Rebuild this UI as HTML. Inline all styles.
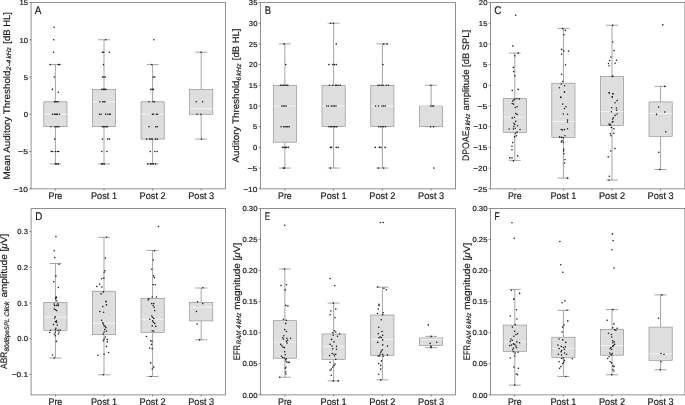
<!DOCTYPE html>
<html><head><meta charset="utf-8"><title>Figure</title>
<style>
html,body{margin:0;padding:0;background:#fff;}
body{width:685px;height:405px;overflow:hidden;}
svg{display:block;filter:grayscale(1);}
svg text{font-family:'Liberation Sans', sans-serif;fill:#1a1a1a;stroke:#1a1a1a;stroke-width:0.18px;text-rendering:geometricPrecision;}
</style></head><body>
<svg width="685" height="405" viewBox="0 0 685 405">
<rect width="685" height="405" fill="#fff"/>
<g id="pA">
<path d="M55.40 64.58V101.83M55.40 126.67V163.92M49.45 64.58H61.35M49.45 163.92H61.35" stroke="#6e6e6e" stroke-width="0.62" fill="none"/>
<rect x="43.80" y="101.83" width="23.20" height="24.84" fill="#dedede" stroke="#8a8a8a" stroke-width="0.62"/>
<path d="M44.10 114.25H66.70" stroke="#f3f3f3" stroke-width="0.95"/>
<path d="M104.00 39.75V89.42M104.00 126.67V163.92M98.05 39.75H109.95M98.05 163.92H109.95" stroke="#6e6e6e" stroke-width="0.62" fill="none"/>
<rect x="92.40" y="89.42" width="23.20" height="37.25" fill="#dedede" stroke="#8a8a8a" stroke-width="0.62"/>
<path d="M92.70 101.83H115.30" stroke="#f3f3f3" stroke-width="0.95"/>
<path d="M152.60 64.58V101.83M152.60 139.08V163.92M146.65 64.58H158.55M146.65 163.92H158.55" stroke="#6e6e6e" stroke-width="0.62" fill="none"/>
<rect x="141.00" y="101.83" width="23.20" height="37.25" fill="#dedede" stroke="#8a8a8a" stroke-width="0.62"/>
<path d="M141.30 114.25H163.90" stroke="#f3f3f3" stroke-width="0.95"/>
<path d="M201.20 52.17V89.42M201.20 114.25V139.08M195.25 52.17H207.15M195.25 139.08H207.15" stroke="#6e6e6e" stroke-width="0.62" fill="none"/>
<rect x="189.60" y="89.42" width="23.20" height="24.83" fill="#dedede" stroke="#8a8a8a" stroke-width="0.62"/>
<path d="M189.90 108.66H212.50" stroke="#f3f3f3" stroke-width="0.95"/>
<g fill="#1c1c1c"><circle cx="54.0" cy="27.3" r="0.78"/><circle cx="53.7" cy="39.8" r="0.78"/><circle cx="53.6" cy="52.2" r="0.78"/><circle cx="50.3" cy="64.6" r="0.78"/><circle cx="58.5" cy="64.6" r="0.78"/><circle cx="59.4" cy="64.6" r="0.78"/><circle cx="54.3" cy="77.0" r="0.78"/><circle cx="52.4" cy="89.4" r="0.78"/><circle cx="58.3" cy="92.2" r="0.78"/><circle cx="54.5" cy="101.8" r="0.78"/><circle cx="55.7" cy="101.8" r="0.78"/><circle cx="56.9" cy="101.8" r="0.78"/><circle cx="58.1" cy="101.8" r="0.78"/><circle cx="52.4" cy="114.2" r="0.78"/><circle cx="54.2" cy="114.2" r="0.78"/><circle cx="55.3" cy="114.2" r="0.78"/><circle cx="56.4" cy="114.2" r="0.78"/><circle cx="57.4" cy="114.2" r="0.78"/><circle cx="59.4" cy="114.2" r="0.78"/><circle cx="51.0" cy="126.7" r="0.78"/><circle cx="54.9" cy="126.7" r="0.78"/><circle cx="56.2" cy="126.7" r="0.78"/><circle cx="57.6" cy="126.7" r="0.78"/><circle cx="59.0" cy="126.7" r="0.78"/><circle cx="54.7" cy="139.1" r="0.78"/><circle cx="51.3" cy="151.5" r="0.78"/><circle cx="52.6" cy="151.5" r="0.78"/><circle cx="55.4" cy="151.5" r="0.78"/><circle cx="57.4" cy="151.5" r="0.78"/><circle cx="58.7" cy="151.5" r="0.78"/><circle cx="55.4" cy="163.9" r="0.78"/><circle cx="56.9" cy="163.9" r="0.78"/><circle cx="58.3" cy="163.9" r="0.78"/><circle cx="105.8" cy="39.8" r="0.78"/><circle cx="102.4" cy="52.2" r="0.78"/><circle cx="103.6" cy="52.2" r="0.78"/><circle cx="109.4" cy="52.2" r="0.78"/><circle cx="103.5" cy="64.6" r="0.78"/><circle cx="102.5" cy="77.0" r="0.78"/><circle cx="103.9" cy="77.0" r="0.78"/><circle cx="105.3" cy="77.0" r="0.78"/><circle cx="101.9" cy="89.4" r="0.78"/><circle cx="103.3" cy="89.4" r="0.78"/><circle cx="104.6" cy="89.4" r="0.78"/><circle cx="105.9" cy="89.4" r="0.78"/><circle cx="99.9" cy="101.8" r="0.78"/><circle cx="102.8" cy="101.8" r="0.78"/><circle cx="104.0" cy="101.8" r="0.78"/><circle cx="105.0" cy="101.8" r="0.78"/><circle cx="99.5" cy="114.2" r="0.78"/><circle cx="101.1" cy="114.2" r="0.78"/><circle cx="105.6" cy="114.2" r="0.78"/><circle cx="107.6" cy="114.2" r="0.78"/><circle cx="109.4" cy="114.2" r="0.78"/><circle cx="110.3" cy="114.2" r="0.78"/><circle cx="102.5" cy="126.7" r="0.78"/><circle cx="103.8" cy="126.7" r="0.78"/><circle cx="105.0" cy="126.7" r="0.78"/><circle cx="106.2" cy="126.7" r="0.78"/><circle cx="107.5" cy="126.7" r="0.78"/><circle cx="102.4" cy="139.1" r="0.78"/><circle cx="107.6" cy="139.1" r="0.78"/><circle cx="109.4" cy="139.1" r="0.78"/><circle cx="101.8" cy="151.5" r="0.78"/><circle cx="106.9" cy="151.5" r="0.78"/><circle cx="101.5" cy="163.9" r="0.78"/><circle cx="102.8" cy="163.9" r="0.78"/><circle cx="104.2" cy="163.9" r="0.78"/><circle cx="153.8" cy="39.8" r="0.78"/><circle cx="151.7" cy="64.6" r="0.78"/><circle cx="153.2" cy="77.0" r="0.78"/><circle cx="154.8" cy="77.0" r="0.78"/><circle cx="150.8" cy="89.4" r="0.78"/><circle cx="152.2" cy="89.4" r="0.78"/><circle cx="153.5" cy="89.4" r="0.78"/><circle cx="149.0" cy="101.8" r="0.78"/><circle cx="153.0" cy="101.8" r="0.78"/><circle cx="154.4" cy="101.8" r="0.78"/><circle cx="152.4" cy="114.2" r="0.78"/><circle cx="153.5" cy="114.2" r="0.78"/><circle cx="156.2" cy="114.2" r="0.78"/><circle cx="157.7" cy="114.2" r="0.78"/><circle cx="149.0" cy="126.7" r="0.78"/><circle cx="155.7" cy="126.7" r="0.78"/><circle cx="157.3" cy="126.7" r="0.78"/><circle cx="146.7" cy="139.1" r="0.78"/><circle cx="149.8" cy="139.1" r="0.78"/><circle cx="151.0" cy="139.1" r="0.78"/><circle cx="152.2" cy="139.1" r="0.78"/><circle cx="155.4" cy="139.1" r="0.78"/><circle cx="157.3" cy="139.1" r="0.78"/><circle cx="150.3" cy="151.5" r="0.78"/><circle cx="154.8" cy="151.5" r="0.78"/><circle cx="157.1" cy="151.5" r="0.78"/><circle cx="147.8" cy="163.9" r="0.78"/><circle cx="150.5" cy="163.9" r="0.78"/><circle cx="151.9" cy="163.9" r="0.78"/><circle cx="153.3" cy="163.9" r="0.78"/><circle cx="155.7" cy="163.9" r="0.78"/><circle cx="200.9" cy="52.2" r="0.78"/><circle cx="196.2" cy="101.8" r="0.78"/><circle cx="202.6" cy="101.8" r="0.78"/><circle cx="197.1" cy="114.2" r="0.78"/><circle cx="200.9" cy="114.2" r="0.78"/><circle cx="201.5" cy="139.1" r="0.78"/></g>
<path d="M31.10 188.85V2.50H225.50V188.85M30.80 188.85H225.80" fill="none" stroke="#4a4a4a" stroke-width="0.62"/>
<path d="M29.30 2.50H31.10M29.30 39.75H31.10M29.30 77.00H31.10M29.30 114.25H31.10M29.30 151.50H31.10M29.30 188.75H31.10M55.40 188.75V190.55M104.00 188.75V190.55M152.60 188.75V190.55M201.20 188.75V190.55" stroke="#4a4a4a" stroke-width="0.62" fill="none"/>
<text x="28.00" y="5.25" font-size="7.3" text-anchor="end" textLength="8.52" lengthAdjust="spacingAndGlyphs">15</text>
<text x="28.00" y="42.50" font-size="7.3" text-anchor="end" textLength="8.52" lengthAdjust="spacingAndGlyphs">10</text>
<text x="28.00" y="79.75" font-size="7.3" text-anchor="end" textLength="4.26" lengthAdjust="spacingAndGlyphs">5</text>
<text x="28.00" y="117.00" font-size="7.3" text-anchor="end" textLength="4.26" lengthAdjust="spacingAndGlyphs">0</text>
<text x="28.00" y="154.25" font-size="7.3" text-anchor="end" textLength="9.88" lengthAdjust="spacingAndGlyphs">−5</text>
<text x="28.00" y="191.50" font-size="7.3" text-anchor="end" textLength="14.14" lengthAdjust="spacingAndGlyphs">−10</text>
<text x="55.40" y="198.85" font-size="9.6" text-anchor="middle" textLength="13.77" lengthAdjust="spacingAndGlyphs">Pre</text>
<text x="104.00" y="198.85" font-size="9.6" text-anchor="middle" textLength="26.04" lengthAdjust="spacingAndGlyphs">Post 1</text>
<text x="152.60" y="198.85" font-size="9.6" text-anchor="middle" textLength="26.04" lengthAdjust="spacingAndGlyphs">Post 2</text>
<text x="201.20" y="198.85" font-size="9.6" text-anchor="middle" textLength="26.04" lengthAdjust="spacingAndGlyphs">Post 3</text>
<text x="34.85" y="13.80" font-size="11.2" textLength="6.70" lengthAdjust="spacingAndGlyphs" stroke-width="0.06">A</text>
<text transform="translate(9.80,179.50) rotate(-90)" font-size="9.5" textLength="109.00" lengthAdjust="spacingAndGlyphs">Mean Auditory Threshold</text>
<text transform="translate(11.35,70.40) rotate(-90)" font-size="6.5" font-style="italic" stroke-width="0.08" textLength="10.70" lengthAdjust="spacingAndGlyphs">2-4</text>
<text transform="translate(11.35,58.50) rotate(-90)" font-size="6.5" font-style="italic" stroke-width="0.08" textLength="11.30" lengthAdjust="spacingAndGlyphs">kHz</text>
<text transform="translate(9.80,43.70) rotate(-90)" font-size="9.5" textLength="31.70" lengthAdjust="spacingAndGlyphs">[dB HL]</text>
</g>
<g id="pB">
<path d="M284.88 43.89V85.28M284.88 142.19V168.06M278.93 43.89H290.82M278.93 168.06H290.82" stroke="#6e6e6e" stroke-width="0.62" fill="none"/>
<rect x="273.27" y="85.28" width="23.20" height="56.91" fill="#dedede" stroke="#8a8a8a" stroke-width="0.62"/>
<path d="M273.57 105.98H296.18" stroke="#f3f3f3" stroke-width="0.95"/>
<path d="M333.62 23.20V85.28M333.62 126.67V168.06M327.68 23.20H339.57M327.68 168.06H339.57" stroke="#6e6e6e" stroke-width="0.62" fill="none"/>
<rect x="322.02" y="85.28" width="23.20" height="41.39" fill="#dedede" stroke="#8a8a8a" stroke-width="0.62"/>
<path d="M322.32 105.98H344.93" stroke="#f3f3f3" stroke-width="0.95"/>
<path d="M382.38 43.89V85.28M382.38 126.67V168.06M376.43 43.89H388.32M376.43 168.06H388.32" stroke="#6e6e6e" stroke-width="0.62" fill="none"/>
<rect x="370.77" y="85.28" width="23.20" height="41.39" fill="#dedede" stroke="#8a8a8a" stroke-width="0.62"/>
<path d="M371.07 105.98H393.68" stroke="#f3f3f3" stroke-width="0.95"/>
<path d="M431.12 85.28V105.98M431.12 126.67V126.67M425.18 85.28H437.07M425.18 126.67H437.07" stroke="#6e6e6e" stroke-width="0.62" fill="none"/>
<rect x="419.52" y="105.98" width="23.20" height="20.69" fill="#dedede" stroke="#8a8a8a" stroke-width="0.62"/>
<path d="M419.82 105.98H442.43" stroke="#f3f3f3" stroke-width="0.95"/>
<g fill="#1c1c1c"><circle cx="284.1" cy="43.9" r="0.78"/><circle cx="285.7" cy="64.6" r="0.78"/><circle cx="280.5" cy="85.3" r="0.78"/><circle cx="282.0" cy="85.3" r="0.78"/><circle cx="283.5" cy="85.3" r="0.78"/><circle cx="285.0" cy="85.3" r="0.78"/><circle cx="286.5" cy="85.3" r="0.78"/><circle cx="287.8" cy="85.3" r="0.78"/><circle cx="281.8" cy="106.0" r="0.78"/><circle cx="283.3" cy="106.0" r="0.78"/><circle cx="284.8" cy="106.0" r="0.78"/><circle cx="286.3" cy="106.0" r="0.78"/><circle cx="281.0" cy="126.7" r="0.78"/><circle cx="283.6" cy="126.7" r="0.78"/><circle cx="285.0" cy="126.7" r="0.78"/><circle cx="286.4" cy="126.7" r="0.78"/><circle cx="287.8" cy="126.7" r="0.78"/><circle cx="289.2" cy="126.7" r="0.78"/><circle cx="282.6" cy="147.4" r="0.78"/><circle cx="284.0" cy="147.4" r="0.78"/><circle cx="285.4" cy="147.4" r="0.78"/><circle cx="286.8" cy="147.4" r="0.78"/><circle cx="288.4" cy="147.4" r="0.78"/><circle cx="283.3" cy="168.1" r="0.78"/><circle cx="284.5" cy="168.1" r="0.78"/><circle cx="330.8" cy="23.2" r="0.78"/><circle cx="333.5" cy="23.2" r="0.78"/><circle cx="336.2" cy="43.9" r="0.78"/><circle cx="328.9" cy="64.6" r="0.78"/><circle cx="332.8" cy="64.6" r="0.78"/><circle cx="334.5" cy="64.6" r="0.78"/><circle cx="336.3" cy="64.6" r="0.78"/><circle cx="329.4" cy="85.3" r="0.78"/><circle cx="332.5" cy="85.3" r="0.78"/><circle cx="335.4" cy="85.3" r="0.78"/><circle cx="336.8" cy="85.3" r="0.78"/><circle cx="338.0" cy="85.3" r="0.78"/><circle cx="340.3" cy="85.3" r="0.78"/><circle cx="326.7" cy="106.0" r="0.78"/><circle cx="328.5" cy="106.0" r="0.78"/><circle cx="331.2" cy="106.0" r="0.78"/><circle cx="332.8" cy="106.0" r="0.78"/><circle cx="334.4" cy="106.0" r="0.78"/><circle cx="336.0" cy="106.0" r="0.78"/><circle cx="328.9" cy="126.7" r="0.78"/><circle cx="330.3" cy="126.7" r="0.78"/><circle cx="331.7" cy="126.7" r="0.78"/><circle cx="333.1" cy="126.7" r="0.78"/><circle cx="334.5" cy="126.7" r="0.78"/><circle cx="335.9" cy="126.7" r="0.78"/><circle cx="336.8" cy="126.7" r="0.78"/><circle cx="330.5" cy="147.4" r="0.78"/><circle cx="331.6" cy="147.4" r="0.78"/><circle cx="336.2" cy="147.4" r="0.78"/><circle cx="338.2" cy="147.4" r="0.78"/><circle cx="330.5" cy="168.1" r="0.78"/><circle cx="383.7" cy="43.9" r="0.78"/><circle cx="387.1" cy="43.9" r="0.78"/><circle cx="383.0" cy="64.6" r="0.78"/><circle cx="378.0" cy="85.3" r="0.78"/><circle cx="379.5" cy="85.3" r="0.78"/><circle cx="381.5" cy="85.3" r="0.78"/><circle cx="383.2" cy="85.3" r="0.78"/><circle cx="386.2" cy="85.3" r="0.78"/><circle cx="388.5" cy="85.3" r="0.78"/><circle cx="375.6" cy="106.0" r="0.78"/><circle cx="378.6" cy="106.0" r="0.78"/><circle cx="382.0" cy="106.0" r="0.78"/><circle cx="383.6" cy="106.0" r="0.78"/><circle cx="385.2" cy="106.0" r="0.78"/><circle cx="378.6" cy="126.7" r="0.78"/><circle cx="380.3" cy="126.7" r="0.78"/><circle cx="382.0" cy="126.7" r="0.78"/><circle cx="383.7" cy="126.7" r="0.78"/><circle cx="385.6" cy="126.7" r="0.78"/><circle cx="375.3" cy="147.4" r="0.78"/><circle cx="379.4" cy="147.4" r="0.78"/><circle cx="381.0" cy="147.4" r="0.78"/><circle cx="385.1" cy="147.4" r="0.78"/><circle cx="378.3" cy="168.1" r="0.78"/><circle cx="383.7" cy="168.1" r="0.78"/><circle cx="430.9" cy="85.3" r="0.78"/><circle cx="430.8" cy="106.0" r="0.78"/><circle cx="432.2" cy="106.0" r="0.78"/><circle cx="433.6" cy="106.0" r="0.78"/><circle cx="430.5" cy="126.7" r="0.78"/><circle cx="433.5" cy="126.7" r="0.78"/><circle cx="433.9" cy="168.1" r="0.78"/></g>
<path d="M260.50 188.85V2.50H455.50V188.85M260.20 188.85H455.80" fill="none" stroke="#4a4a4a" stroke-width="0.62"/>
<path d="M258.70 2.50H260.50M258.70 23.20H260.50M258.70 43.89H260.50M258.70 64.59H260.50M258.70 85.28H260.50M258.70 105.98H260.50M258.70 126.67H260.50M258.70 147.37H260.50M258.70 168.06H260.50M258.70 188.76H260.50M284.88 188.75V190.55M333.62 188.75V190.55M382.38 188.75V190.55M431.12 188.75V190.55" stroke="#4a4a4a" stroke-width="0.62" fill="none"/>
<text x="257.40" y="5.25" font-size="7.3" text-anchor="end" textLength="8.52" lengthAdjust="spacingAndGlyphs">35</text>
<text x="257.40" y="25.95" font-size="7.3" text-anchor="end" textLength="8.52" lengthAdjust="spacingAndGlyphs">30</text>
<text x="257.40" y="46.64" font-size="7.3" text-anchor="end" textLength="8.52" lengthAdjust="spacingAndGlyphs">25</text>
<text x="257.40" y="67.34" font-size="7.3" text-anchor="end" textLength="8.52" lengthAdjust="spacingAndGlyphs">20</text>
<text x="257.40" y="88.03" font-size="7.3" text-anchor="end" textLength="8.52" lengthAdjust="spacingAndGlyphs">15</text>
<text x="257.40" y="108.73" font-size="7.3" text-anchor="end" textLength="8.52" lengthAdjust="spacingAndGlyphs">10</text>
<text x="257.40" y="129.42" font-size="7.3" text-anchor="end" textLength="4.26" lengthAdjust="spacingAndGlyphs">5</text>
<text x="257.40" y="150.12" font-size="7.3" text-anchor="end" textLength="4.26" lengthAdjust="spacingAndGlyphs">0</text>
<text x="257.40" y="170.81" font-size="7.3" text-anchor="end" textLength="9.88" lengthAdjust="spacingAndGlyphs">−5</text>
<text x="257.40" y="191.51" font-size="7.3" text-anchor="end" textLength="14.14" lengthAdjust="spacingAndGlyphs">−10</text>
<text x="284.88" y="198.85" font-size="9.6" text-anchor="middle" textLength="13.77" lengthAdjust="spacingAndGlyphs">Pre</text>
<text x="333.62" y="198.85" font-size="9.6" text-anchor="middle" textLength="26.04" lengthAdjust="spacingAndGlyphs">Post 1</text>
<text x="382.38" y="198.85" font-size="9.6" text-anchor="middle" textLength="26.04" lengthAdjust="spacingAndGlyphs">Post 2</text>
<text x="431.12" y="198.85" font-size="9.6" text-anchor="middle" textLength="26.04" lengthAdjust="spacingAndGlyphs">Post 3</text>
<text x="264.65" y="13.80" font-size="11.2" textLength="6.30" lengthAdjust="spacingAndGlyphs" stroke-width="0.06">B</text>
<text transform="translate(239.15,162.50) rotate(-90)" font-size="9.5" textLength="82.00" lengthAdjust="spacingAndGlyphs">Auditory Threshold</text>
<text transform="translate(240.70,80.40) rotate(-90)" font-size="6.5" font-style="italic" stroke-width="0.08" textLength="3.60" lengthAdjust="spacingAndGlyphs">6</text>
<text transform="translate(240.70,75.70) rotate(-90)" font-size="6.5" font-style="italic" stroke-width="0.08" textLength="12.10" lengthAdjust="spacingAndGlyphs">kHz</text>
<text transform="translate(239.15,60.20) rotate(-90)" font-size="9.5" textLength="31.60" lengthAdjust="spacingAndGlyphs">[dB HL]</text>
</g>
<g id="pC">
<path d="M514.80 53.10V98.40M514.80 132.50V160.40M508.85 53.10H520.75M508.85 160.40H520.75" stroke="#6e6e6e" stroke-width="0.62" fill="none"/>
<rect x="503.20" y="98.40" width="23.20" height="34.10" fill="#dedede" stroke="#8a8a8a" stroke-width="0.62"/>
<path d="M503.50 117.20H526.10" stroke="#f3f3f3" stroke-width="0.95"/>
<path d="M563.40 28.40V83.20M563.40 137.40V178.10M557.45 28.40H569.35M557.45 178.10H569.35" stroke="#6e6e6e" stroke-width="0.62" fill="none"/>
<rect x="551.80" y="83.20" width="23.20" height="54.20" fill="#dedede" stroke="#8a8a8a" stroke-width="0.62"/>
<path d="M552.10 121.40H574.70" stroke="#f3f3f3" stroke-width="0.95"/>
<path d="M612.00 25.20V76.50M612.00 125.30V180.10M606.05 25.20H617.95M606.05 180.10H617.95" stroke="#6e6e6e" stroke-width="0.62" fill="none"/>
<rect x="600.40" y="76.50" width="23.20" height="48.80" fill="#dedede" stroke="#8a8a8a" stroke-width="0.62"/>
<path d="M600.70 111.50H623.30" stroke="#f3f3f3" stroke-width="0.95"/>
<path d="M660.60 86.40V101.90M660.60 136.40V169.50M654.65 86.40H666.55M654.65 169.50H666.55" stroke="#6e6e6e" stroke-width="0.62" fill="none"/>
<rect x="649.00" y="101.90" width="23.20" height="34.50" fill="#dedede" stroke="#8a8a8a" stroke-width="0.62"/>
<path d="M649.30 113.50H671.90" stroke="#f3f3f3" stroke-width="0.95"/>
<g fill="#1c1c1c"><circle cx="515.7" cy="15.3" r="0.78"/><circle cx="512.9" cy="45.9" r="0.78"/><circle cx="518.1" cy="53.1" r="0.78"/><circle cx="514.7" cy="55.8" r="0.78"/><circle cx="513.4" cy="67.4" r="0.78"/><circle cx="513.7" cy="71.6" r="0.78"/><circle cx="514.9" cy="75.8" r="0.78"/><circle cx="512.2" cy="90.4" r="0.78"/><circle cx="518.1" cy="89.4" r="0.78"/><circle cx="562.6" cy="28.6" r="0.78"/><circle cx="565.3" cy="30.4" r="0.78"/><circle cx="564.0" cy="34.8" r="0.78"/><circle cx="561.6" cy="49.4" r="0.78"/><circle cx="563.8" cy="51.1" r="0.78"/><circle cx="568.5" cy="51.1" r="0.78"/><circle cx="561.6" cy="54.1" r="0.78"/><circle cx="565.5" cy="64.7" r="0.78"/><circle cx="561.6" cy="74.3" r="0.78"/><circle cx="562.8" cy="81.5" r="0.78"/><circle cx="561.3" cy="84.0" r="0.78"/><circle cx="564.5" cy="85.7" r="0.78"/><circle cx="559.4" cy="87.7" r="0.78"/><circle cx="564.5" cy="92.1" r="0.78"/><circle cx="560.8" cy="97.3" r="0.78"/><circle cx="514.7" cy="99.1" r="0.78"/><circle cx="516.9" cy="98.6" r="0.78"/><circle cx="519.4" cy="98.9" r="0.78"/><circle cx="512.7" cy="101.1" r="0.78"/><circle cx="513.9" cy="99.9" r="0.78"/><circle cx="512.2" cy="103.6" r="0.78"/><circle cx="513.7" cy="104.1" r="0.78"/><circle cx="517.1" cy="106.8" r="0.78"/><circle cx="515.2" cy="107.5" r="0.78"/><circle cx="515.7" cy="113.5" r="0.78"/><circle cx="517.1" cy="114.4" r="0.78"/><circle cx="512.2" cy="117.9" r="0.78"/><circle cx="514.4" cy="117.2" r="0.78"/><circle cx="515.7" cy="121.4" r="0.78"/><circle cx="513.9" cy="123.3" r="0.78"/><circle cx="514.7" cy="124.6" r="0.78"/><circle cx="517.6" cy="125.8" r="0.78"/><circle cx="513.7" cy="126.5" r="0.78"/><circle cx="515.2" cy="128.3" r="0.78"/><circle cx="513.4" cy="129.0" r="0.78"/><circle cx="509.2" cy="129.0" r="0.78"/><circle cx="520.1" cy="129.5" r="0.78"/><circle cx="517.1" cy="132.0" r="0.78"/><circle cx="515.7" cy="133.2" r="0.78"/><circle cx="516.4" cy="135.7" r="0.78"/><circle cx="514.7" cy="136.9" r="0.78"/><circle cx="512.7" cy="142.6" r="0.78"/><circle cx="512.0" cy="146.3" r="0.78"/><circle cx="512.0" cy="149.8" r="0.78"/><circle cx="517.6" cy="155.9" r="0.78"/><circle cx="509.7" cy="157.9" r="0.78"/><circle cx="512.0" cy="157.9" r="0.78"/><circle cx="513.4" cy="160.9" r="0.78"/><circle cx="564.5" cy="92.0" r="0.78"/><circle cx="560.8" cy="97.4" r="0.78"/><circle cx="562.8" cy="104.1" r="0.78"/><circle cx="566.0" cy="106.8" r="0.78"/><circle cx="564.5" cy="108.5" r="0.78"/><circle cx="563.3" cy="114.0" r="0.78"/><circle cx="567.5" cy="114.2" r="0.78"/><circle cx="567.5" cy="120.1" r="0.78"/><circle cx="567.5" cy="122.1" r="0.78"/><circle cx="567.5" cy="128.8" r="0.78"/><circle cx="564.5" cy="129.5" r="0.78"/><circle cx="561.3" cy="129.5" r="0.78"/><circle cx="562.6" cy="130.0" r="0.78"/><circle cx="565.0" cy="135.7" r="0.78"/><circle cx="559.6" cy="136.9" r="0.78"/><circle cx="561.6" cy="137.4" r="0.78"/><circle cx="563.3" cy="137.7" r="0.78"/><circle cx="562.1" cy="140.6" r="0.78"/><circle cx="561.3" cy="141.9" r="0.78"/><circle cx="563.3" cy="142.3" r="0.78"/><circle cx="563.8" cy="149.3" r="0.78"/><circle cx="563.6" cy="151.0" r="0.78"/><circle cx="564.0" cy="153.7" r="0.78"/><circle cx="565.0" cy="159.6" r="0.78"/><circle cx="564.5" cy="163.1" r="0.78"/><circle cx="567.5" cy="178.1" r="0.78"/><circle cx="612.7" cy="25.2" r="0.78"/><circle cx="612.7" cy="42.0" r="0.78"/><circle cx="614.1" cy="50.6" r="0.78"/><circle cx="610.9" cy="57.0" r="0.78"/><circle cx="609.7" cy="60.5" r="0.78"/><circle cx="616.6" cy="60.2" r="0.78"/><circle cx="608.5" cy="63.5" r="0.78"/><circle cx="615.1" cy="63.2" r="0.78"/><circle cx="609.0" cy="65.7" r="0.78"/><circle cx="612.2" cy="76.5" r="0.78"/><circle cx="612.9" cy="76.0" r="0.78"/><circle cx="609.2" cy="92.8" r="0.78"/><circle cx="612.9" cy="93.8" r="0.78"/><circle cx="612.2" cy="97.0" r="0.78"/><circle cx="662.8" cy="24.9" r="0.78"/><circle cx="664.8" cy="86.4" r="0.78"/><circle cx="609.2" cy="93.0" r="0.78"/><circle cx="612.9" cy="93.7" r="0.78"/><circle cx="612.2" cy="96.9" r="0.78"/><circle cx="617.1" cy="100.6" r="0.78"/><circle cx="615.1" cy="102.8" r="0.78"/><circle cx="611.7" cy="107.8" r="0.78"/><circle cx="616.4" cy="108.0" r="0.78"/><circle cx="616.6" cy="110.2" r="0.78"/><circle cx="611.4" cy="111.7" r="0.78"/><circle cx="617.1" cy="114.0" r="0.78"/><circle cx="615.1" cy="115.4" r="0.78"/><circle cx="613.4" cy="117.7" r="0.78"/><circle cx="612.7" cy="119.1" r="0.78"/><circle cx="612.9" cy="121.6" r="0.78"/><circle cx="612.2" cy="122.1" r="0.78"/><circle cx="609.0" cy="124.1" r="0.78"/><circle cx="610.4" cy="124.6" r="0.78"/><circle cx="609.7" cy="125.3" r="0.78"/><circle cx="611.4" cy="127.5" r="0.78"/><circle cx="613.9" cy="128.8" r="0.78"/><circle cx="610.4" cy="133.7" r="0.78"/><circle cx="613.9" cy="133.2" r="0.78"/><circle cx="610.9" cy="135.7" r="0.78"/><circle cx="615.1" cy="148.5" r="0.78"/><circle cx="610.7" cy="151.0" r="0.78"/><circle cx="608.2" cy="156.9" r="0.78"/><circle cx="609.4" cy="176.2" r="0.78"/><circle cx="609.0" cy="180.1" r="0.78"/><circle cx="658.6" cy="107.0" r="0.78"/><circle cx="664.8" cy="112.0" r="0.78"/><circle cx="656.6" cy="114.4" r="0.78"/><circle cx="665.7" cy="131.7" r="0.78"/><circle cx="658.8" cy="152.2" r="0.78"/><circle cx="659.8" cy="169.5" r="0.78"/></g>
<path d="M490.50 188.85V2.50H684.90V188.85M490.20 188.85H685.20" fill="none" stroke="#4a4a4a" stroke-width="0.62"/>
<path d="M488.70 2.50H490.50M488.70 23.20H490.50M488.70 43.89H490.50M488.70 64.59H490.50M488.70 85.28H490.50M488.70 105.98H490.50M488.70 126.67H490.50M488.70 147.37H490.50M488.70 168.06H490.50M488.70 188.76H490.50M514.80 188.75V190.55M563.40 188.75V190.55M612.00 188.75V190.55M660.60 188.75V190.55" stroke="#4a4a4a" stroke-width="0.62" fill="none"/>
<text x="487.40" y="5.25" font-size="7.3" text-anchor="end" textLength="8.52" lengthAdjust="spacingAndGlyphs">20</text>
<text x="487.40" y="25.95" font-size="7.3" text-anchor="end" textLength="8.52" lengthAdjust="spacingAndGlyphs">15</text>
<text x="487.40" y="46.64" font-size="7.3" text-anchor="end" textLength="8.52" lengthAdjust="spacingAndGlyphs">10</text>
<text x="487.40" y="67.34" font-size="7.3" text-anchor="end" textLength="4.26" lengthAdjust="spacingAndGlyphs">5</text>
<text x="487.40" y="88.03" font-size="7.3" text-anchor="end" textLength="4.26" lengthAdjust="spacingAndGlyphs">0</text>
<text x="487.40" y="108.73" font-size="7.3" text-anchor="end" textLength="9.88" lengthAdjust="spacingAndGlyphs">−5</text>
<text x="487.40" y="129.42" font-size="7.3" text-anchor="end" textLength="14.14" lengthAdjust="spacingAndGlyphs">−10</text>
<text x="487.40" y="150.12" font-size="7.3" text-anchor="end" textLength="14.14" lengthAdjust="spacingAndGlyphs">−15</text>
<text x="487.40" y="170.81" font-size="7.3" text-anchor="end" textLength="14.14" lengthAdjust="spacingAndGlyphs">−20</text>
<text x="487.40" y="191.51" font-size="7.3" text-anchor="end" textLength="14.14" lengthAdjust="spacingAndGlyphs">−25</text>
<text x="514.80" y="198.85" font-size="9.6" text-anchor="middle" textLength="13.77" lengthAdjust="spacingAndGlyphs">Pre</text>
<text x="563.40" y="198.85" font-size="9.6" text-anchor="middle" textLength="26.04" lengthAdjust="spacingAndGlyphs">Post 1</text>
<text x="612.00" y="198.85" font-size="9.6" text-anchor="middle" textLength="26.04" lengthAdjust="spacingAndGlyphs">Post 2</text>
<text x="660.60" y="198.85" font-size="9.6" text-anchor="middle" textLength="26.04" lengthAdjust="spacingAndGlyphs">Post 3</text>
<text x="494.25" y="13.80" font-size="11.2" textLength="7.20" lengthAdjust="spacingAndGlyphs" stroke-width="0.06">C</text>
<text transform="translate(468.90,161.10) rotate(-90)" font-size="9.5" textLength="30.60" lengthAdjust="spacingAndGlyphs">DPOAE</text>
<text transform="translate(470.45,130.20) rotate(-90)" font-size="6.5" font-style="italic" stroke-width="0.08" textLength="3.50" lengthAdjust="spacingAndGlyphs">8</text>
<text transform="translate(470.45,125.30) rotate(-90)" font-size="6.5" font-style="italic" stroke-width="0.08" textLength="11.60" lengthAdjust="spacingAndGlyphs">kHz</text>
<text transform="translate(468.90,110.40) rotate(-90)" font-size="9.5" textLength="80.60" lengthAdjust="spacingAndGlyphs">amplitude [dB SPL]</text>
</g>
<g id="pD">
<path d="M55.40 263.50V302.40M55.40 330.30V358.00M49.45 263.50H61.35M49.45 358.00H61.35" stroke="#6e6e6e" stroke-width="0.62" fill="none"/>
<rect x="43.80" y="302.40" width="23.20" height="27.90" fill="#dedede" stroke="#8a8a8a" stroke-width="0.62"/>
<path d="M44.10 317.20H66.70" stroke="#f3f3f3" stroke-width="0.95"/>
<path d="M104.00 237.30V291.20M104.00 334.70V374.80M98.05 237.30H109.95M98.05 374.80H109.95" stroke="#6e6e6e" stroke-width="0.62" fill="none"/>
<rect x="92.40" y="291.20" width="23.20" height="43.50" fill="#dedede" stroke="#8a8a8a" stroke-width="0.62"/>
<path d="M92.70 323.40H115.30" stroke="#f3f3f3" stroke-width="0.95"/>
<path d="M152.60 250.40V298.30M152.60 332.40V376.50M146.65 250.40H158.55M146.65 376.50H158.55" stroke="#6e6e6e" stroke-width="0.62" fill="none"/>
<rect x="141.00" y="298.30" width="23.20" height="34.10" fill="#dedede" stroke="#8a8a8a" stroke-width="0.62"/>
<path d="M141.30 319.20H163.90" stroke="#f3f3f3" stroke-width="0.95"/>
<path d="M201.20 288.00V302.30M201.20 320.90V339.80M195.25 288.00H207.15M195.25 339.80H207.15" stroke="#6e6e6e" stroke-width="0.62" fill="none"/>
<rect x="189.60" y="302.30" width="23.20" height="18.60" fill="#dedede" stroke="#8a8a8a" stroke-width="0.62"/>
<path d="M189.90 307.30H212.50" stroke="#f3f3f3" stroke-width="0.95"/>
<g fill="#1c1c1c"><circle cx="55.9" cy="236.6" r="0.78"/><circle cx="54.2" cy="250.7" r="0.78"/><circle cx="54.7" cy="257.6" r="0.78"/><circle cx="59.1" cy="264.3" r="0.78"/><circle cx="55.9" cy="276.1" r="0.78"/><circle cx="53.7" cy="281.8" r="0.78"/><circle cx="58.4" cy="287.5" r="0.78"/><circle cx="56.2" cy="297.1" r="0.78"/><circle cx="55.7" cy="298.3" r="0.78"/><circle cx="56.7" cy="300.8" r="0.78"/><circle cx="106.5" cy="237.3" r="0.78"/><circle cx="105.3" cy="258.1" r="0.78"/><circle cx="104.8" cy="270.7" r="0.78"/><circle cx="104.1" cy="272.2" r="0.78"/><circle cx="103.8" cy="278.1" r="0.78"/><circle cx="101.6" cy="278.8" r="0.78"/><circle cx="99.6" cy="284.0" r="0.78"/><circle cx="96.7" cy="286.5" r="0.78"/><circle cx="101.9" cy="287.0" r="0.78"/><circle cx="103.3" cy="291.9" r="0.78"/><circle cx="101.1" cy="293.9" r="0.78"/><circle cx="106.0" cy="301.3" r="0.78"/><circle cx="56.2" cy="297.5" r="0.78"/><circle cx="55.7" cy="298.7" r="0.78"/><circle cx="54.2" cy="304.1" r="0.78"/><circle cx="57.9" cy="303.9" r="0.78"/><circle cx="54.7" cy="305.6" r="0.78"/><circle cx="56.7" cy="305.4" r="0.78"/><circle cx="58.4" cy="305.4" r="0.78"/><circle cx="54.2" cy="309.1" r="0.78"/><circle cx="55.4" cy="309.8" r="0.78"/><circle cx="56.7" cy="310.6" r="0.78"/><circle cx="55.2" cy="316.7" r="0.78"/><circle cx="54.7" cy="318.0" r="0.78"/><circle cx="56.4" cy="320.9" r="0.78"/><circle cx="55.4" cy="321.7" r="0.78"/><circle cx="56.7" cy="322.2" r="0.78"/><circle cx="53.5" cy="324.6" r="0.78"/><circle cx="57.2" cy="325.1" r="0.78"/><circle cx="55.9" cy="328.3" r="0.78"/><circle cx="55.4" cy="329.6" r="0.78"/><circle cx="57.9" cy="330.3" r="0.78"/><circle cx="60.1" cy="330.1" r="0.78"/><circle cx="50.5" cy="330.3" r="0.78"/><circle cx="49.8" cy="332.5" r="0.78"/><circle cx="55.4" cy="332.0" r="0.78"/><circle cx="58.9" cy="332.0" r="0.78"/><circle cx="54.2" cy="334.0" r="0.78"/><circle cx="58.4" cy="334.0" r="0.78"/><circle cx="55.4" cy="335.7" r="0.78"/><circle cx="56.4" cy="341.4" r="0.78"/><circle cx="52.5" cy="355.0" r="0.78"/><circle cx="54.2" cy="358.0" r="0.78"/><circle cx="106.0" cy="301.7" r="0.78"/><circle cx="106.5" cy="304.9" r="0.78"/><circle cx="102.8" cy="306.6" r="0.78"/><circle cx="99.9" cy="311.5" r="0.78"/><circle cx="103.6" cy="312.3" r="0.78"/><circle cx="101.6" cy="320.2" r="0.78"/><circle cx="102.8" cy="322.9" r="0.78"/><circle cx="103.6" cy="324.1" r="0.78"/><circle cx="104.1" cy="325.9" r="0.78"/><circle cx="105.3" cy="326.6" r="0.78"/><circle cx="106.0" cy="327.8" r="0.78"/><circle cx="104.8" cy="329.6" r="0.78"/><circle cx="106.5" cy="331.3" r="0.78"/><circle cx="104.1" cy="332.0" r="0.78"/><circle cx="103.3" cy="334.0" r="0.78"/><circle cx="105.3" cy="337.0" r="0.78"/><circle cx="104.1" cy="339.0" r="0.78"/><circle cx="107.3" cy="339.4" r="0.78"/><circle cx="103.3" cy="340.7" r="0.78"/><circle cx="107.3" cy="341.9" r="0.78"/><circle cx="106.5" cy="346.4" r="0.78"/><circle cx="108.5" cy="352.5" r="0.78"/><circle cx="104.1" cy="354.3" r="0.78"/><circle cx="97.9" cy="355.2" r="0.78"/><circle cx="103.3" cy="374.8" r="0.78"/><circle cx="158.4" cy="226.5" r="0.78"/><circle cx="154.4" cy="250.7" r="0.78"/><circle cx="153.2" cy="260.1" r="0.78"/><circle cx="151.7" cy="269.2" r="0.78"/><circle cx="153.7" cy="275.9" r="0.78"/><circle cx="154.4" cy="277.8" r="0.78"/><circle cx="153.2" cy="284.8" r="0.78"/><circle cx="155.2" cy="284.8" r="0.78"/><circle cx="202.8" cy="287.7" r="0.78"/><circle cx="152.2" cy="297.0" r="0.78"/><circle cx="156.4" cy="297.0" r="0.78"/><circle cx="149.0" cy="298.5" r="0.78"/><circle cx="148.2" cy="299.9" r="0.78"/><circle cx="151.7" cy="303.6" r="0.78"/><circle cx="153.7" cy="303.6" r="0.78"/><circle cx="153.2" cy="305.6" r="0.78"/><circle cx="154.2" cy="307.3" r="0.78"/><circle cx="154.7" cy="310.6" r="0.78"/><circle cx="151.7" cy="316.0" r="0.78"/><circle cx="152.7" cy="317.2" r="0.78"/><circle cx="149.7" cy="319.2" r="0.78"/><circle cx="153.7" cy="318.5" r="0.78"/><circle cx="152.7" cy="320.9" r="0.78"/><circle cx="153.4" cy="322.2" r="0.78"/><circle cx="154.7" cy="323.4" r="0.78"/><circle cx="152.2" cy="325.9" r="0.78"/><circle cx="155.7" cy="326.4" r="0.78"/><circle cx="152.2" cy="330.8" r="0.78"/><circle cx="153.7" cy="331.3" r="0.78"/><circle cx="146.5" cy="336.5" r="0.78"/><circle cx="150.7" cy="340.7" r="0.78"/><circle cx="152.0" cy="341.2" r="0.78"/><circle cx="151.5" cy="344.4" r="0.78"/><circle cx="149.7" cy="348.1" r="0.78"/><circle cx="152.2" cy="348.6" r="0.78"/><circle cx="150.7" cy="362.9" r="0.78"/><circle cx="153.7" cy="367.1" r="0.78"/><circle cx="152.2" cy="369.1" r="0.78"/><circle cx="151.0" cy="376.5" r="0.78"/><circle cx="197.6" cy="301.7" r="0.78"/><circle cx="202.8" cy="303.6" r="0.78"/><circle cx="196.4" cy="311.5" r="0.78"/><circle cx="197.1" cy="324.1" r="0.78"/><circle cx="199.6" cy="339.9" r="0.78"/></g>
<path d="M31.10 394.85V208.50H225.50V394.85M30.80 394.85H225.80" fill="none" stroke="#4a4a4a" stroke-width="0.62"/>
<path d="M29.30 231.45H31.10M29.30 267.20H31.10M29.30 302.95H31.10M29.30 338.70H31.10M29.30 374.45H31.10M55.40 394.75V396.55M104.00 394.75V396.55M152.60 394.75V396.55M201.20 394.75V396.55" stroke="#4a4a4a" stroke-width="0.62" fill="none"/>
<text x="28.00" y="234.20" font-size="7.3" text-anchor="end" textLength="10.65" lengthAdjust="spacingAndGlyphs">0.3</text>
<text x="28.00" y="269.95" font-size="7.3" text-anchor="end" textLength="10.65" lengthAdjust="spacingAndGlyphs">0.2</text>
<text x="28.00" y="305.70" font-size="7.3" text-anchor="end" textLength="10.65" lengthAdjust="spacingAndGlyphs">0.1</text>
<text x="28.00" y="341.45" font-size="7.3" text-anchor="end" textLength="10.65" lengthAdjust="spacingAndGlyphs">0.0</text>
<text x="28.00" y="377.20" font-size="7.3" text-anchor="end" textLength="16.27" lengthAdjust="spacingAndGlyphs">−0.1</text>
<text x="55.40" y="404.85" font-size="9.6" text-anchor="middle" textLength="13.77" lengthAdjust="spacingAndGlyphs">Pre</text>
<text x="104.00" y="404.85" font-size="9.6" text-anchor="middle" textLength="26.04" lengthAdjust="spacingAndGlyphs">Post 1</text>
<text x="152.60" y="404.85" font-size="9.6" text-anchor="middle" textLength="26.04" lengthAdjust="spacingAndGlyphs">Post 2</text>
<text x="201.20" y="404.85" font-size="9.6" text-anchor="middle" textLength="26.04" lengthAdjust="spacingAndGlyphs">Post 3</text>
<text x="35.30" y="219.80" font-size="11.2" textLength="7.10" lengthAdjust="spacingAndGlyphs" stroke-width="0.06">D</text>
<text transform="translate(7.20,369.00) rotate(-90)" font-size="9.5" textLength="17.40" lengthAdjust="spacingAndGlyphs">ABR</text>
<text transform="translate(8.75,351.40) rotate(-90)" font-size="6.5" font-style="italic" stroke-width="0.08" textLength="32.80" lengthAdjust="spacingAndGlyphs">80dBpeSPL</text>
<text transform="translate(8.75,316.40) rotate(-90)" font-size="6.5" font-style="italic" stroke-width="0.08" textLength="14.70" lengthAdjust="spacingAndGlyphs">Click</text>
<text transform="translate(7.20,297.60) rotate(-90)" font-size="9.5" textLength="63.80" lengthAdjust="spacingAndGlyphs">amplitude [<tspan font-style="italic">μ</tspan>V]</text>
</g>
<g id="pE">
<path d="M284.88 269.00V320.70M284.88 358.20V377.20M278.93 269.00H290.82M278.93 377.20H290.82" stroke="#6e6e6e" stroke-width="0.62" fill="none"/>
<rect x="273.27" y="320.70" width="23.20" height="37.50" fill="#dedede" stroke="#8a8a8a" stroke-width="0.62"/>
<path d="M273.57 342.20H296.18" stroke="#f3f3f3" stroke-width="0.95"/>
<path d="M333.62 303.10V334.00M333.62 359.40V380.90M327.68 303.10H339.57M327.68 380.90H339.57" stroke="#6e6e6e" stroke-width="0.62" fill="none"/>
<rect x="322.02" y="334.00" width="23.20" height="25.40" fill="#dedede" stroke="#8a8a8a" stroke-width="0.62"/>
<path d="M322.32 346.40H344.93" stroke="#f3f3f3" stroke-width="0.95"/>
<path d="M382.38 287.20V315.00M382.38 355.50V379.90M376.43 287.20H388.32M376.43 379.90H388.32" stroke="#6e6e6e" stroke-width="0.62" fill="none"/>
<rect x="370.77" y="315.00" width="23.20" height="40.50" fill="#dedede" stroke="#8a8a8a" stroke-width="0.62"/>
<path d="M371.07 339.40H393.68" stroke="#f3f3f3" stroke-width="0.95"/>
<path d="M431.12 336.40V338.00M431.12 345.50V347.60M425.18 336.40H437.07M425.18 347.60H437.07" stroke="#6e6e6e" stroke-width="0.62" fill="none"/>
<rect x="419.52" y="338.00" width="23.20" height="7.50" fill="#dedede" stroke="#8a8a8a" stroke-width="0.62"/>
<path d="M419.82 339.20H442.43" stroke="#f3f3f3" stroke-width="0.95"/>
<g fill="#1c1c1c"><circle cx="284.7" cy="225.2" r="0.78"/><circle cx="284.4" cy="269.0" r="0.78"/><circle cx="281.0" cy="285.5" r="0.78"/><circle cx="286.4" cy="284.8" r="0.78"/><circle cx="285.2" cy="289.9" r="0.78"/><circle cx="330.1" cy="278.6" r="0.78"/><circle cx="334.8" cy="285.7" r="0.78"/><circle cx="285.9" cy="305.4" r="0.78"/><circle cx="287.9" cy="306.1" r="0.78"/><circle cx="283.4" cy="319.2" r="0.78"/><circle cx="286.4" cy="320.2" r="0.78"/><circle cx="285.7" cy="323.4" r="0.78"/><circle cx="284.7" cy="329.6" r="0.78"/><circle cx="286.4" cy="331.5" r="0.78"/><circle cx="283.9" cy="335.7" r="0.78"/><circle cx="282.7" cy="337.7" r="0.78"/><circle cx="286.9" cy="338.2" r="0.78"/><circle cx="290.6" cy="338.2" r="0.78"/><circle cx="283.4" cy="339.0" r="0.78"/><circle cx="287.6" cy="340.2" r="0.78"/><circle cx="286.4" cy="341.4" r="0.78"/><circle cx="287.1" cy="343.1" r="0.78"/><circle cx="280.7" cy="344.4" r="0.78"/><circle cx="282.0" cy="346.1" r="0.78"/><circle cx="283.2" cy="347.3" r="0.78"/><circle cx="284.4" cy="347.6" r="0.78"/><circle cx="284.7" cy="351.8" r="0.78"/><circle cx="285.2" cy="354.8" r="0.78"/><circle cx="281.5" cy="356.2" r="0.78"/><circle cx="282.7" cy="357.5" r="0.78"/><circle cx="284.4" cy="358.0" r="0.78"/><circle cx="286.4" cy="358.7" r="0.78"/><circle cx="285.7" cy="359.9" r="0.78"/><circle cx="286.4" cy="361.7" r="0.78"/><circle cx="288.1" cy="362.4" r="0.78"/><circle cx="289.4" cy="362.2" r="0.78"/><circle cx="285.9" cy="367.3" r="0.78"/><circle cx="285.2" cy="368.3" r="0.78"/><circle cx="285.7" cy="372.0" r="0.78"/><circle cx="285.9" cy="374.0" r="0.78"/><circle cx="279.7" cy="377.2" r="0.78"/><circle cx="333.3" cy="303.1" r="0.78"/><circle cx="335.8" cy="309.1" r="0.78"/><circle cx="330.8" cy="311.0" r="0.78"/><circle cx="330.1" cy="314.8" r="0.78"/><circle cx="335.0" cy="317.7" r="0.78"/><circle cx="334.5" cy="330.8" r="0.78"/><circle cx="335.8" cy="332.0" r="0.78"/><circle cx="332.8" cy="332.8" r="0.78"/><circle cx="339.5" cy="334.0" r="0.78"/><circle cx="333.3" cy="335.2" r="0.78"/><circle cx="337.5" cy="336.2" r="0.78"/><circle cx="331.6" cy="339.4" r="0.78"/><circle cx="334.0" cy="341.9" r="0.78"/><circle cx="330.1" cy="344.4" r="0.78"/><circle cx="332.1" cy="346.1" r="0.78"/><circle cx="336.5" cy="346.4" r="0.78"/><circle cx="332.8" cy="348.8" r="0.78"/><circle cx="336.5" cy="349.3" r="0.78"/><circle cx="332.1" cy="353.5" r="0.78"/><circle cx="334.0" cy="354.3" r="0.78"/><circle cx="335.8" cy="354.3" r="0.78"/><circle cx="329.6" cy="355.5" r="0.78"/><circle cx="334.5" cy="356.0" r="0.78"/><circle cx="335.8" cy="359.2" r="0.78"/><circle cx="330.1" cy="362.2" r="0.78"/><circle cx="335.0" cy="364.1" r="0.78"/><circle cx="334.0" cy="365.4" r="0.78"/><circle cx="332.8" cy="367.1" r="0.78"/><circle cx="331.3" cy="369.1" r="0.78"/><circle cx="330.1" cy="370.3" r="0.78"/><circle cx="331.3" cy="375.2" r="0.78"/><circle cx="333.3" cy="380.9" r="0.78"/><circle cx="338.2" cy="380.9" r="0.78"/><circle cx="380.4" cy="222.5" r="0.78"/><circle cx="383.2" cy="222.5" r="0.78"/><circle cx="377.7" cy="287.0" r="0.78"/><circle cx="383.9" cy="288.2" r="0.78"/><circle cx="386.4" cy="289.7" r="0.78"/><circle cx="379.0" cy="304.4" r="0.78"/><circle cx="379.0" cy="305.6" r="0.78"/><circle cx="378.2" cy="309.1" r="0.78"/><circle cx="377.5" cy="313.5" r="0.78"/><circle cx="383.2" cy="312.8" r="0.78"/><circle cx="382.7" cy="314.8" r="0.78"/><circle cx="381.2" cy="319.7" r="0.78"/><circle cx="378.7" cy="327.3" r="0.78"/><circle cx="381.9" cy="331.5" r="0.78"/><circle cx="378.2" cy="333.8" r="0.78"/><circle cx="382.7" cy="335.2" r="0.78"/><circle cx="380.2" cy="337.0" r="0.78"/><circle cx="381.4" cy="337.5" r="0.78"/><circle cx="379.0" cy="337.7" r="0.78"/><circle cx="382.7" cy="339.9" r="0.78"/><circle cx="377.7" cy="342.4" r="0.78"/><circle cx="382.7" cy="344.9" r="0.78"/><circle cx="387.6" cy="346.1" r="0.78"/><circle cx="382.4" cy="349.8" r="0.78"/><circle cx="381.4" cy="351.0" r="0.78"/><circle cx="380.7" cy="352.3" r="0.78"/><circle cx="380.0" cy="354.3" r="0.78"/><circle cx="382.7" cy="354.3" r="0.78"/><circle cx="387.4" cy="354.8" r="0.78"/><circle cx="378.2" cy="356.0" r="0.78"/><circle cx="379.5" cy="356.0" r="0.78"/><circle cx="383.2" cy="356.2" r="0.78"/><circle cx="381.4" cy="360.9" r="0.78"/><circle cx="378.7" cy="363.6" r="0.78"/><circle cx="380.7" cy="365.4" r="0.78"/><circle cx="380.7" cy="369.1" r="0.78"/><circle cx="378.7" cy="374.3" r="0.78"/><circle cx="380.7" cy="379.9" r="0.78"/><circle cx="428.3" cy="324.9" r="0.78"/><circle cx="431.3" cy="336.2" r="0.78"/><circle cx="436.7" cy="342.2" r="0.78"/><circle cx="430.1" cy="343.4" r="0.78"/><circle cx="430.8" cy="346.4" r="0.78"/><circle cx="431.3" cy="347.6" r="0.78"/></g>
<path d="M260.50 394.85V208.50H455.50V394.85M260.20 394.85H455.80" fill="none" stroke="#4a4a4a" stroke-width="0.62"/>
<path d="M258.70 208.50H260.50M258.70 239.54H260.50M258.70 270.58H260.50M258.70 301.63H260.50M258.70 332.67H260.50M258.70 363.71H260.50M258.70 394.75H260.50M284.88 394.75V396.55M333.62 394.75V396.55M382.38 394.75V396.55M431.12 394.75V396.55" stroke="#4a4a4a" stroke-width="0.62" fill="none"/>
<text x="257.40" y="211.25" font-size="7.3" text-anchor="end" textLength="14.91" lengthAdjust="spacingAndGlyphs">0.30</text>
<text x="257.40" y="242.29" font-size="7.3" text-anchor="end" textLength="14.91" lengthAdjust="spacingAndGlyphs">0.25</text>
<text x="257.40" y="273.33" font-size="7.3" text-anchor="end" textLength="14.91" lengthAdjust="spacingAndGlyphs">0.20</text>
<text x="257.40" y="304.38" font-size="7.3" text-anchor="end" textLength="14.91" lengthAdjust="spacingAndGlyphs">0.15</text>
<text x="257.40" y="335.42" font-size="7.3" text-anchor="end" textLength="14.91" lengthAdjust="spacingAndGlyphs">0.10</text>
<text x="257.40" y="366.46" font-size="7.3" text-anchor="end" textLength="14.91" lengthAdjust="spacingAndGlyphs">0.05</text>
<text x="257.40" y="397.50" font-size="7.3" text-anchor="end" textLength="14.91" lengthAdjust="spacingAndGlyphs">0.00</text>
<text x="284.88" y="404.85" font-size="9.6" text-anchor="middle" textLength="13.77" lengthAdjust="spacingAndGlyphs">Pre</text>
<text x="333.62" y="404.85" font-size="9.6" text-anchor="middle" textLength="26.04" lengthAdjust="spacingAndGlyphs">Post 1</text>
<text x="382.38" y="404.85" font-size="9.6" text-anchor="middle" textLength="26.04" lengthAdjust="spacingAndGlyphs">Post 2</text>
<text x="431.12" y="404.85" font-size="9.6" text-anchor="middle" textLength="26.04" lengthAdjust="spacingAndGlyphs">Post 3</text>
<text x="264.70" y="219.80" font-size="11.2" textLength="5.30" lengthAdjust="spacingAndGlyphs" stroke-width="0.06">E</text>
<text transform="translate(239.50,360.20) rotate(-90)" font-size="9.5" textLength="15.30" lengthAdjust="spacingAndGlyphs">EFR</text>
<text transform="translate(241.05,344.20) rotate(-90)" font-size="6.5" font-style="italic" stroke-width="0.08" textLength="13.50" lengthAdjust="spacingAndGlyphs">RAM</text>
<text transform="translate(241.05,328.80) rotate(-90)" font-size="6.5" font-style="italic" stroke-width="0.08" textLength="3.70" lengthAdjust="spacingAndGlyphs">4</text>
<text transform="translate(241.05,324.00) rotate(-90)" font-size="6.5" font-style="italic" stroke-width="0.08" textLength="11.30" lengthAdjust="spacingAndGlyphs">kHz</text>
<text transform="translate(239.50,309.80) rotate(-90)" font-size="9.5" textLength="67.10" lengthAdjust="spacingAndGlyphs">magnitude [<tspan font-style="italic">μ</tspan>V]</text>
</g>
<g id="pF">
<path d="M514.80 289.40V325.10M514.80 351.30V385.10M508.85 289.40H520.75M508.85 385.10H520.75" stroke="#6e6e6e" stroke-width="0.62" fill="none"/>
<rect x="503.20" y="325.10" width="23.20" height="26.20" fill="#dedede" stroke="#8a8a8a" stroke-width="0.62"/>
<path d="M503.50 341.90H526.10" stroke="#f3f3f3" stroke-width="0.95"/>
<path d="M563.40 310.30V337.20M563.40 357.50V376.50M557.45 310.30H569.35M557.45 376.50H569.35" stroke="#6e6e6e" stroke-width="0.62" fill="none"/>
<rect x="551.80" y="337.20" width="23.20" height="20.30" fill="#dedede" stroke="#8a8a8a" stroke-width="0.62"/>
<path d="M552.10 348.30H574.70" stroke="#f3f3f3" stroke-width="0.95"/>
<path d="M612.00 309.60V329.30M612.00 355.20V374.80M606.05 309.60H617.95M606.05 374.80H617.95" stroke="#6e6e6e" stroke-width="0.62" fill="none"/>
<rect x="600.40" y="329.30" width="23.20" height="25.90" fill="#dedede" stroke="#8a8a8a" stroke-width="0.62"/>
<path d="M600.70 345.60H623.30" stroke="#f3f3f3" stroke-width="0.95"/>
<path d="M660.60 294.90V327.10M660.60 360.40V369.80M654.65 294.90H666.55M654.65 369.80H666.55" stroke="#6e6e6e" stroke-width="0.62" fill="none"/>
<rect x="649.00" y="327.10" width="23.20" height="33.30" fill="#dedede" stroke="#8a8a8a" stroke-width="0.62"/>
<path d="M649.30 353.80H671.90" stroke="#f3f3f3" stroke-width="0.95"/>
<g fill="#1c1c1c"><circle cx="512.0" cy="222.8" r="0.78"/><circle cx="514.2" cy="238.3" r="0.78"/><circle cx="511.5" cy="290.2" r="0.78"/><circle cx="519.6" cy="293.4" r="0.78"/><circle cx="513.7" cy="299.1" r="0.78"/><circle cx="559.9" cy="241.5" r="0.78"/><circle cx="560.8" cy="264.8" r="0.78"/><circle cx="562.8" cy="272.2" r="0.78"/><circle cx="565.0" cy="300.8" r="0.78"/><circle cx="562.1" cy="302.8" r="0.78"/><circle cx="513.7" cy="299.2" r="0.78"/><circle cx="516.4" cy="309.8" r="0.78"/><circle cx="510.2" cy="316.0" r="0.78"/><circle cx="516.9" cy="319.0" r="0.78"/><circle cx="515.2" cy="324.6" r="0.78"/><circle cx="512.4" cy="327.1" r="0.78"/><circle cx="514.7" cy="331.3" r="0.78"/><circle cx="517.6" cy="333.8" r="0.78"/><circle cx="515.9" cy="334.5" r="0.78"/><circle cx="513.9" cy="336.2" r="0.78"/><circle cx="511.0" cy="339.0" r="0.78"/><circle cx="512.2" cy="340.2" r="0.78"/><circle cx="510.2" cy="341.4" r="0.78"/><circle cx="516.9" cy="341.9" r="0.78"/><circle cx="519.6" cy="342.7" r="0.78"/><circle cx="513.4" cy="343.9" r="0.78"/><circle cx="514.7" cy="344.4" r="0.78"/><circle cx="511.5" cy="345.1" r="0.78"/><circle cx="509.7" cy="345.6" r="0.78"/><circle cx="515.9" cy="346.1" r="0.78"/><circle cx="516.6" cy="347.6" r="0.78"/><circle cx="513.4" cy="348.1" r="0.78"/><circle cx="512.7" cy="349.8" r="0.78"/><circle cx="513.4" cy="351.8" r="0.78"/><circle cx="518.1" cy="352.3" r="0.78"/><circle cx="515.2" cy="353.0" r="0.78"/><circle cx="514.7" cy="356.0" r="0.78"/><circle cx="510.2" cy="358.0" r="0.78"/><circle cx="513.9" cy="367.1" r="0.78"/><circle cx="518.4" cy="368.3" r="0.78"/><circle cx="516.4" cy="374.0" r="0.78"/><circle cx="517.6" cy="374.8" r="0.78"/><circle cx="514.7" cy="385.1" r="0.78"/><circle cx="567.0" cy="310.3" r="0.78"/><circle cx="567.8" cy="320.9" r="0.78"/><circle cx="564.0" cy="325.1" r="0.78"/><circle cx="562.6" cy="327.1" r="0.78"/><circle cx="562.1" cy="332.0" r="0.78"/><circle cx="559.1" cy="339.0" r="0.78"/><circle cx="562.8" cy="339.9" r="0.78"/><circle cx="565.8" cy="342.4" r="0.78"/><circle cx="557.9" cy="345.1" r="0.78"/><circle cx="561.3" cy="346.4" r="0.78"/><circle cx="565.3" cy="346.9" r="0.78"/><circle cx="563.3" cy="347.6" r="0.78"/><circle cx="559.1" cy="348.6" r="0.78"/><circle cx="564.5" cy="349.3" r="0.78"/><circle cx="561.6" cy="350.6" r="0.78"/><circle cx="561.1" cy="351.8" r="0.78"/><circle cx="564.5" cy="353.0" r="0.78"/><circle cx="558.4" cy="354.3" r="0.78"/><circle cx="566.5" cy="354.3" r="0.78"/><circle cx="561.6" cy="355.0" r="0.78"/><circle cx="563.3" cy="358.0" r="0.78"/><circle cx="561.6" cy="358.5" r="0.78"/><circle cx="572.2" cy="358.7" r="0.78"/><circle cx="564.5" cy="360.4" r="0.78"/><circle cx="559.1" cy="361.7" r="0.78"/><circle cx="563.8" cy="362.2" r="0.78"/><circle cx="562.8" cy="363.6" r="0.78"/><circle cx="560.8" cy="366.6" r="0.78"/><circle cx="559.6" cy="368.3" r="0.78"/><circle cx="565.8" cy="376.5" r="0.78"/><circle cx="612.4" cy="233.9" r="0.78"/><circle cx="613.1" cy="240.6" r="0.78"/><circle cx="611.9" cy="249.7" r="0.78"/><circle cx="613.9" cy="268.0" r="0.78"/><circle cx="662.0" cy="294.9" r="0.78"/><circle cx="612.9" cy="309.6" r="0.78"/><circle cx="607.2" cy="320.2" r="0.78"/><circle cx="613.9" cy="323.9" r="0.78"/><circle cx="612.7" cy="327.8" r="0.78"/><circle cx="617.1" cy="328.3" r="0.78"/><circle cx="614.6" cy="329.6" r="0.78"/><circle cx="615.9" cy="330.3" r="0.78"/><circle cx="608.5" cy="333.3" r="0.78"/><circle cx="611.4" cy="334.5" r="0.78"/><circle cx="611.7" cy="337.0" r="0.78"/><circle cx="612.7" cy="340.7" r="0.78"/><circle cx="614.1" cy="341.9" r="0.78"/><circle cx="612.9" cy="342.7" r="0.78"/><circle cx="614.6" cy="344.4" r="0.78"/><circle cx="613.4" cy="345.6" r="0.78"/><circle cx="612.7" cy="346.4" r="0.78"/><circle cx="610.9" cy="347.6" r="0.78"/><circle cx="610.2" cy="348.8" r="0.78"/><circle cx="611.7" cy="349.3" r="0.78"/><circle cx="609.7" cy="353.0" r="0.78"/><circle cx="612.2" cy="353.5" r="0.78"/><circle cx="610.9" cy="354.3" r="0.78"/><circle cx="611.7" cy="355.0" r="0.78"/><circle cx="609.2" cy="356.7" r="0.78"/><circle cx="607.7" cy="358.5" r="0.78"/><circle cx="610.2" cy="361.7" r="0.78"/><circle cx="611.7" cy="362.9" r="0.78"/><circle cx="612.9" cy="365.9" r="0.78"/><circle cx="614.1" cy="366.6" r="0.78"/><circle cx="612.9" cy="369.8" r="0.78"/><circle cx="613.9" cy="371.0" r="0.78"/><circle cx="611.7" cy="374.8" r="0.78"/><circle cx="658.6" cy="318.2" r="0.78"/><circle cx="661.0" cy="353.5" r="0.78"/><circle cx="664.0" cy="354.3" r="0.78"/><circle cx="661.0" cy="361.7" r="0.78"/><circle cx="660.3" cy="369.8" r="0.78"/></g>
<path d="M490.50 394.85V208.50H684.90V394.85M490.20 394.85H685.20" fill="none" stroke="#4a4a4a" stroke-width="0.62"/>
<path d="M488.70 208.50H490.50M488.70 239.54H490.50M488.70 270.58H490.50M488.70 301.63H490.50M488.70 332.67H490.50M488.70 363.71H490.50M488.70 394.75H490.50M514.80 394.75V396.55M563.40 394.75V396.55M612.00 394.75V396.55M660.60 394.75V396.55" stroke="#4a4a4a" stroke-width="0.62" fill="none"/>
<text x="487.40" y="211.25" font-size="7.3" text-anchor="end" textLength="14.91" lengthAdjust="spacingAndGlyphs">0.30</text>
<text x="487.40" y="242.29" font-size="7.3" text-anchor="end" textLength="14.91" lengthAdjust="spacingAndGlyphs">0.25</text>
<text x="487.40" y="273.33" font-size="7.3" text-anchor="end" textLength="14.91" lengthAdjust="spacingAndGlyphs">0.20</text>
<text x="487.40" y="304.38" font-size="7.3" text-anchor="end" textLength="14.91" lengthAdjust="spacingAndGlyphs">0.15</text>
<text x="487.40" y="335.42" font-size="7.3" text-anchor="end" textLength="14.91" lengthAdjust="spacingAndGlyphs">0.10</text>
<text x="487.40" y="366.46" font-size="7.3" text-anchor="end" textLength="14.91" lengthAdjust="spacingAndGlyphs">0.05</text>
<text x="487.40" y="397.50" font-size="7.3" text-anchor="end" textLength="14.91" lengthAdjust="spacingAndGlyphs">0.00</text>
<text x="514.80" y="404.85" font-size="9.6" text-anchor="middle" textLength="13.77" lengthAdjust="spacingAndGlyphs">Pre</text>
<text x="563.40" y="404.85" font-size="9.6" text-anchor="middle" textLength="26.04" lengthAdjust="spacingAndGlyphs">Post 1</text>
<text x="612.00" y="404.85" font-size="9.6" text-anchor="middle" textLength="26.04" lengthAdjust="spacingAndGlyphs">Post 2</text>
<text x="660.60" y="404.85" font-size="9.6" text-anchor="middle" textLength="26.04" lengthAdjust="spacingAndGlyphs">Post 3</text>
<text x="494.60" y="219.80" font-size="11.2" textLength="5.15" lengthAdjust="spacingAndGlyphs" stroke-width="0.06">F</text>
<text transform="translate(469.50,360.20) rotate(-90)" font-size="9.5" textLength="15.30" lengthAdjust="spacingAndGlyphs">EFR</text>
<text transform="translate(471.05,344.20) rotate(-90)" font-size="6.5" font-style="italic" stroke-width="0.08" textLength="13.50" lengthAdjust="spacingAndGlyphs">RAM</text>
<text transform="translate(471.05,328.80) rotate(-90)" font-size="6.5" font-style="italic" stroke-width="0.08" textLength="3.70" lengthAdjust="spacingAndGlyphs">6</text>
<text transform="translate(471.05,324.00) rotate(-90)" font-size="6.5" font-style="italic" stroke-width="0.08" textLength="11.30" lengthAdjust="spacingAndGlyphs">kHz</text>
<text transform="translate(469.50,309.80) rotate(-90)" font-size="9.5" textLength="67.10" lengthAdjust="spacingAndGlyphs">magnitude [<tspan font-style="italic">μ</tspan>V]</text>
</g>
</svg>
</body></html>
